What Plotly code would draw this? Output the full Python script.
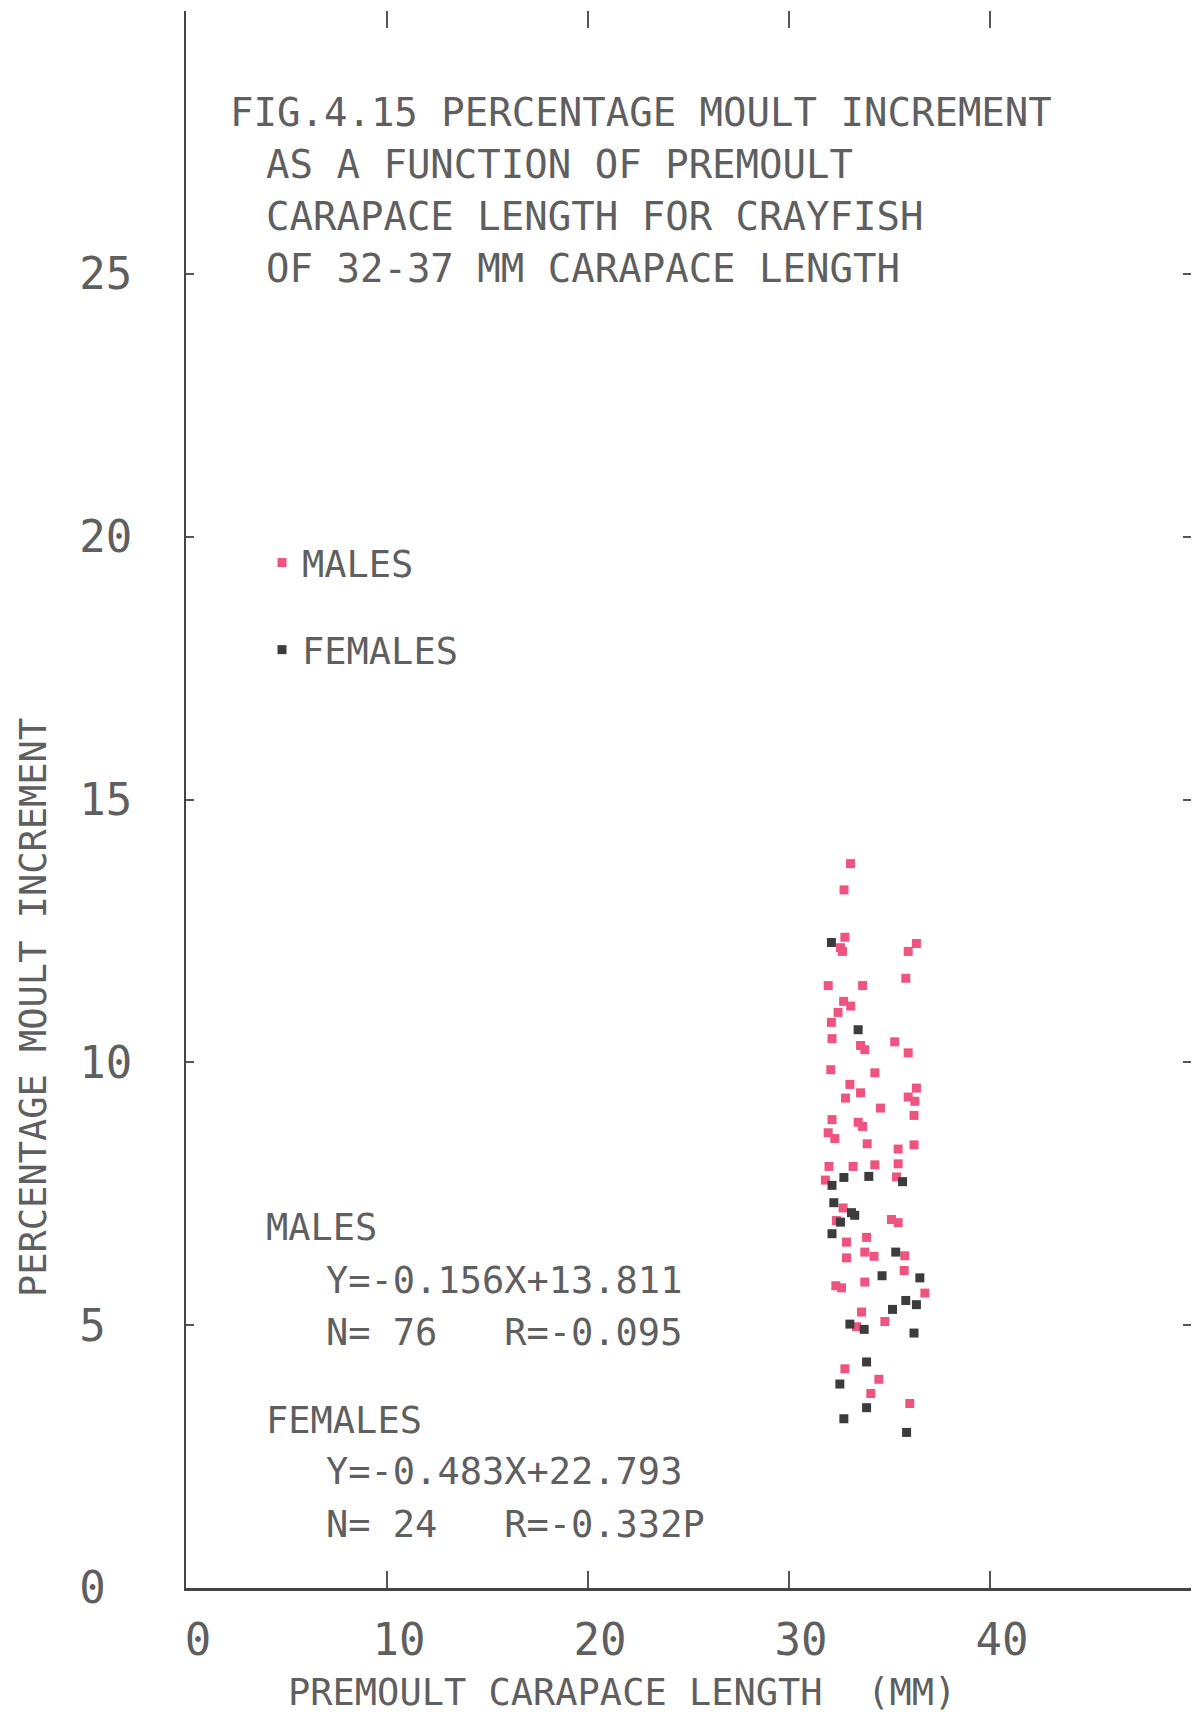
import plotly.graph_objects as go

# ---- data ----
male_x = [33.06, 32.74, 32.78, 32.56, 32.66, 36.34, 35.93, 35.81, 31.95, 33.66,
          32.72, 33.07, 32.44, 32.11, 32.14, 33.56, 33.77, 35.26, 35.93,
          32.08, 34.27, 33.03, 32.81, 33.56, 36.34, 35.93, 36.26, 34.55, 36.22,
          32.14, 33.44, 33.66, 31.95, 32.28, 33.89, 36.22, 35.43, 31.99, 33.19,
          34.27, 35.43, 35.35, 31.81, 32.69, 32.36, 35.10, 35.43, 32.86, 33.86,
          33.77, 32.86, 34.23, 35.76, 35.73, 32.33, 32.61, 33.77, 36.76, 33.61,
          34.77, 33.36, 32.78, 34.47, 34.07, 36.01]
male_y = [13.78, 13.28, 12.38, 12.18, 12.11, 12.26, 12.11, 11.60, 11.46, 11.46,
          11.16, 11.07, 10.95, 10.76, 10.45, 10.32, 10.24, 10.39, 10.18,
          9.86, 9.80, 9.58, 9.32, 9.42, 9.51, 9.34, 9.26, 9.13, 8.99,
          8.91, 8.86, 8.78, 8.66, 8.55, 8.45, 8.43, 8.35, 8.02, 8.02,
          8.05, 8.07, 7.82, 7.76, 7.23, 6.99, 7.01, 6.95, 6.58, 6.67,
          6.39, 6.28, 6.31, 6.32, 6.04, 5.75, 5.71, 5.82, 5.61, 5.25,
          5.07, 4.97, 4.17, 3.97, 3.70, 3.51]

female_x = [32.11, 33.44, 32.73, 33.97, 35.65, 32.14, 32.23, 33.11, 33.27, 32.56,
            32.14, 35.31, 34.63, 36.51, 35.81, 36.34, 35.15, 33.03, 33.74, 36.22,
            33.86, 32.53, 33.86, 32.73, 35.85]
female_y = [12.28, 10.62, 7.81, 7.83, 7.73, 7.66, 7.33, 7.14, 7.09, 6.96,
            6.74, 6.39, 5.94, 5.90, 5.47, 5.39, 5.30, 5.02, 4.92, 4.85,
            4.30, 3.88, 3.43, 3.22, 2.96]

x_ticks = [0, 10, 20, 30, 40]
y_ticks = [0, 5, 10, 15, 20, 25]
y_ticktext = ["0\u00a0", "5\u00a0", "10", "15", "20", "25"]

title_lines = ["FIG.4.15 PERCENTAGE MOULT INCREMENT",
               "AS A FUNCTION OF PREMOULT",
               "CARAPACE LENGTH FOR CRAYFISH",
               "OF 32-37 MM CARAPACE LENGTH"]
stats_lines = [("MALES", 0), ("Y=-0.156X+13.811", 1), ("N= 76\u00a0\u00a0\u00a0R=-0.095", 1),
               ("FEMALES", 0), ("Y=-0.483X+22.793", 1), ("N= 24\u00a0\u00a0\u00a0R=-0.332P", 1)]

FONT = "DejaVu Sans Mono"
TXT = "#5f5f5f"
W, H = 1204, 1718
L, R, T, B = 186, 13, 11, 130
X_RANGE = [0, 50]
Y_RANGE = [0, 30]


def px(xp):
    return (xp - L) / (W - L - R)


def py(yp):
    return (H - B - yp) / (H - B - T)


fig = go.Figure()
fig.add_trace(go.Scatter(x=male_x, y=male_y, mode="markers", name="MALES",
                         legendgroup="m",
                         marker=dict(symbol="square", size=9, color="#ef5480")))
fig.add_trace(go.Scatter(x=female_x, y=female_y, mode="markers", name="FEMALES",
                         legendgroup="f",
                         marker=dict(symbol="square", size=9, color="#3c3c3c")))

ann = []
title_y = [113, 164, 216, 268]
for i, t in enumerate(title_lines):
    ann.append(dict(text=t, x=px(228 if i == 0 else 264), y=py(title_y[i]),
                    xref="paper", yref="paper", xanchor="left", yanchor="middle",
                    showarrow=False, font=dict(family=FONT, size=39, color=TXT)))
stats_y = [1227, 1280, 1332, 1420, 1471, 1524]
for (t, ind), yy in zip(stats_lines, stats_y):
    ann.append(dict(text=t, x=px(264 if ind == 0 else 324), y=py(yy),
                    xref="paper", yref="paper", xanchor="left", yanchor="middle",
                    showarrow=False, font=dict(family=FONT, size=37, color=TXT)))
ann.append(dict(text="PREMOULT CARAPACE LENGTH\u00a0\u00a0(MM)", x=px(622), y=py(1692),
                xref="paper", yref="paper", xanchor="center", yanchor="middle",
                showarrow=False, font=dict(family=FONT, size=37, color=TXT)))
ann.append(dict(text="PERCENTAGE MOULT INCREMENT", x=px(33), y=py(1008), textangle=-90,
                xref="paper", yref="paper", xanchor="center", yanchor="middle",
                showarrow=False, font=dict(family=FONT, size=37, color=TXT)))

# hidden trace to activate the mirrored (top / right) tick-only axes
fig.add_trace(go.Scatter(x=[], y=[], xaxis="x2", yaxis="y2", showlegend=False))

fig.update_layout(
    width=W, height=H,
    margin=dict(l=L, r=R, t=T, b=B),
    paper_bgcolor="white", plot_bgcolor="white",
    showlegend=True,
    legend=dict(x=px(262), y=py(532), xanchor="left", yanchor="top",
                font=dict(family=FONT, size=37, color=TXT),
                tracegroupgap=36, bgcolor="rgba(0,0,0,0)", itemsizing="trace"),
    annotations=ann,
    xaxis=dict(range=X_RANGE, tickvals=x_ticks, ticks="inside", ticklen=17,
               tickwidth=1.5, tickcolor="#555",
               showline=True, linecolor="#444", linewidth=3, showgrid=False,
               zeroline=False, ticklabelshift=12, ticklabelstandoff=11,
               tickfont=dict(family=FONT, size=44, color=TXT)),
    yaxis=dict(range=Y_RANGE, tickvals=y_ticks, ticktext=y_ticktext, ticks="inside",
               ticklen=8, tickwidth=1.5, tickcolor="#555",
               showline=True, linecolor="#444", linewidth=2, showgrid=False,
               zeroline=False, ticklabelstandoff=43,
               tickfont=dict(family=FONT, size=44, color=TXT)),
    xaxis2=dict(range=X_RANGE, tickvals=x_ticks[1:], ticks="inside", ticklen=17,
                tickwidth=1.5, tickcolor="#555", side="top", overlaying="x",
                showline=False, showgrid=False, zeroline=False, showticklabels=False),
    yaxis2=dict(range=Y_RANGE, tickvals=y_ticks[1:], ticks="inside", ticklen=8,
                tickwidth=1.5, tickcolor="#555", side="right", overlaying="y",
                showline=False, showgrid=False, zeroline=False, showticklabels=False),
)

fig.write_html("out.html")
